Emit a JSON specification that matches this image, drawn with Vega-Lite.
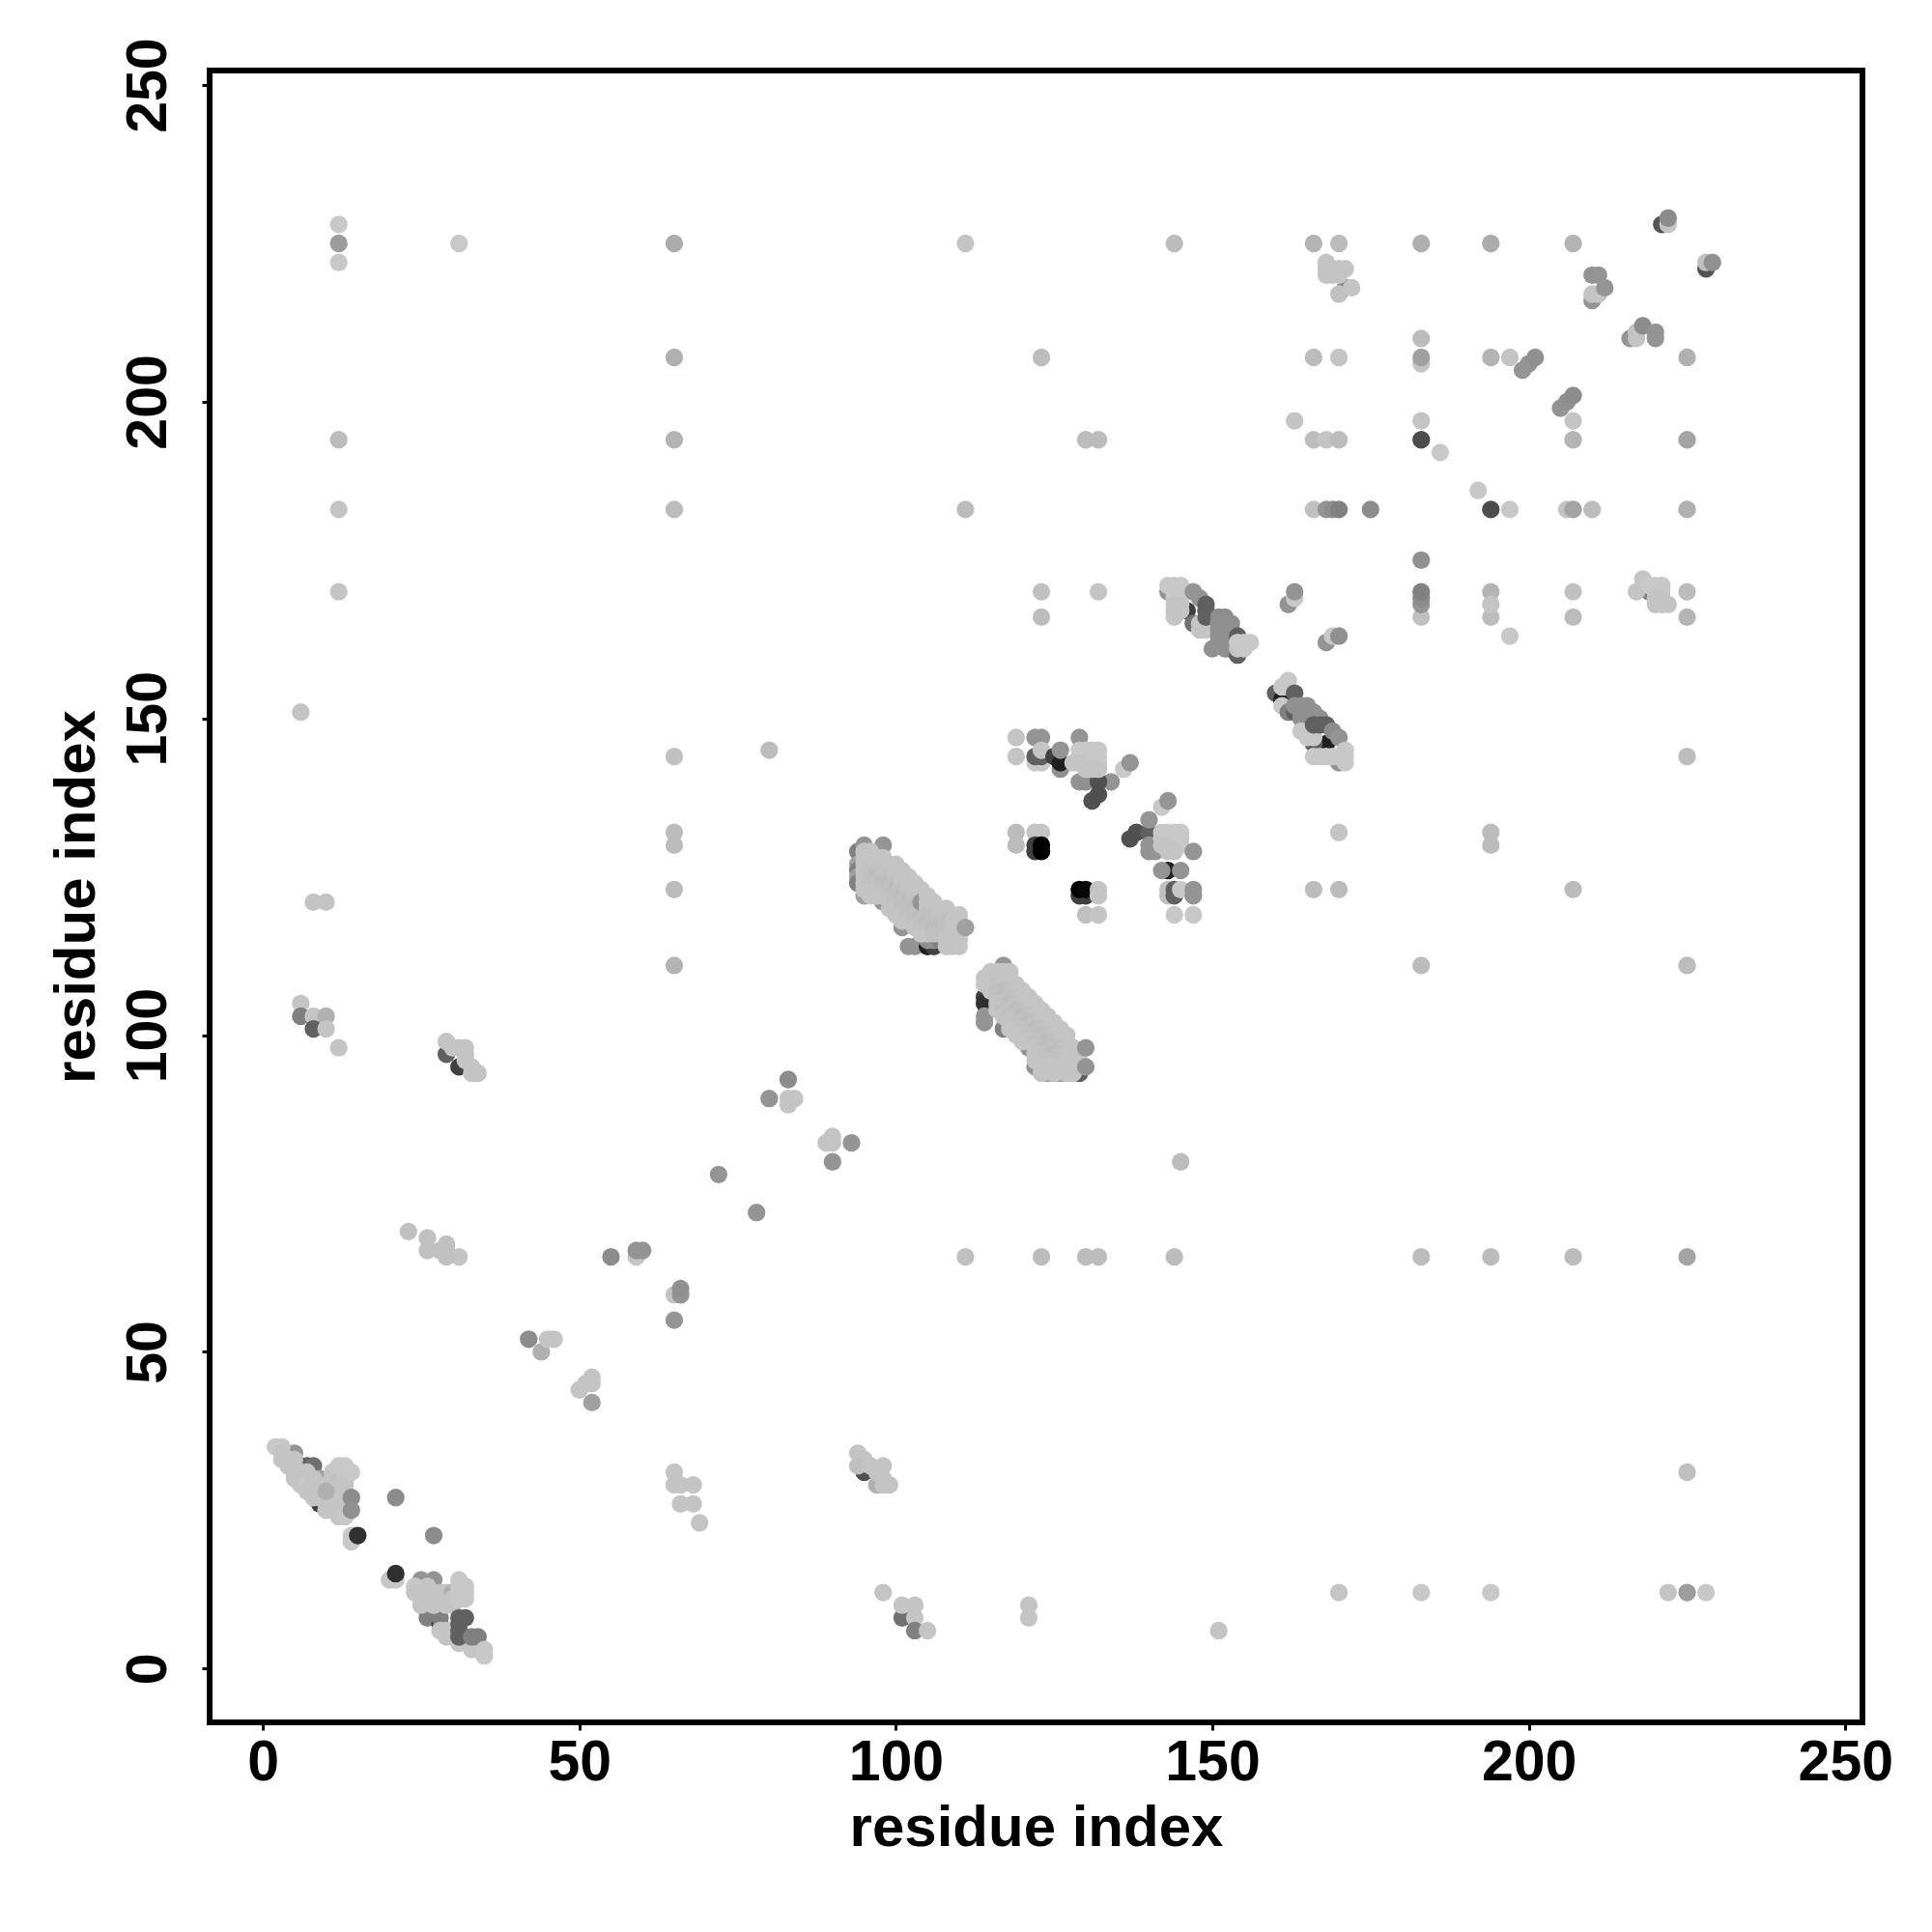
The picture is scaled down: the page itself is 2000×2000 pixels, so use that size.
{"$schema":"https://vega.github.io/schema/vega-lite/v6.json","width":1711,"height":1710,"autosize":"none","padding":{"left":217,"top":73,"right":72,"bottom":217},"background":"white","config":{"view":{"stroke":"#000000","strokeWidth":6},"font":"Liberation Sans"},
"data":{"values":[
{"i":4,"j":34,"s":148},{"i":5,"j":34,"s":148},{"i":6,"j":32,"s":96},{"i":7,"j":32,"s":96},{"i":8,"j":32,"s":112},{"i":7,"j":30,"s":128},{"i":9,"j":30,"s":160},{"i":8,"j":28,"s":64},{"i":9,"j":28,"s":128},{"i":9,"j":26,"s":64},{"i":10,"j":26,"s":128},{"i":10,"j":27,"s":128},
{"i":2,"j":35,"s":200},{"i":3,"j":35,"s":200},{"i":3,"j":34,"s":196},{"i":3,"j":33,"s":196},{"i":4,"j":33,"s":196},{"i":4,"j":32,"s":196},{"i":5,"j":33,"s":196},{"i":5,"j":31,"s":196},{"i":5,"j":30,"s":196},{"i":6,"j":31,"s":196},{"i":6,"j":30,"s":196},{"i":6,"j":29,"s":196},{"i":7,"j":31,"s":196},{"i":7,"j":29,"s":200},{"i":7,"j":28,"s":196},{"i":8,"j":30,"s":196},{"i":8,"j":29,"s":196},{"i":8,"j":27,"s":196},{"i":9,"j":27,"s":196},{"i":10,"j":29,"s":196},{"i":10,"j":25,"s":196},{"i":11,"j":31,"s":200},{"i":11,"j":30,"s":196},{"i":11,"j":29,"s":196},{"i":11,"j":27,"s":196},{"i":11,"j":26,"s":196},{"i":11,"j":25,"s":196},{"i":12,"j":31,"s":200},{"i":12,"j":30,"s":192},{"i":12,"j":29,"s":196},{"i":12,"j":28,"s":196},{"i":12,"j":27,"s":196},{"i":12,"j":26,"s":196},{"i":12,"j":25,"s":196},{"i":12,"j":24,"s":196},{"i":13,"j":31,"s":200},{"i":13,"j":30,"s":196},{"i":13,"j":29,"s":196},{"i":13,"j":28,"s":196},{"i":13,"j":27,"s":196},{"i":13,"j":24,"s":200},{"i":12,"j":32,"s":200},{"i":13,"j":32,"s":200},{"i":14,"j":31,"s":200},{"i":10,"j":28,"s":176},{"i":14,"j":21,"s":200},{"i":14,"j":20,"s":200},{"i":14,"j":27,"s":140},{"i":14,"j":25,"s":144},{"i":15,"j":21,"s":48},{"i":21,"j":27,"s":140},{"i":27,"j":21,"s":140},
{"i":26,"j":9,"s":64},{"i":26,"j":8,"s":128},{"i":28,"j":7,"s":64},{"i":28,"j":8,"s":128},
{"i":20,"j":14,"s":200},{"i":21,"j":14,"s":200},{"i":25,"j":14,"s":148},{"i":27,"j":14,"s":148},{"i":24,"j":13,"s":200},{"i":24,"j":12,"s":196},{"i":25,"j":12,"s":196},{"i":25,"j":11,"s":196},{"i":25,"j":10,"s":196},{"i":26,"j":13,"s":196},{"i":26,"j":12,"s":196},{"i":26,"j":11,"s":196},{"i":27,"j":12,"s":196},{"i":27,"j":11,"s":196},{"i":27,"j":10,"s":196},{"i":28,"j":12,"s":196},{"i":28,"j":11,"s":196},{"i":28,"j":6,"s":196},{"i":29,"j":12,"s":196},{"i":29,"j":11,"s":196},{"i":29,"j":10,"s":196},{"i":29,"j":6,"s":196},{"i":29,"j":5,"s":196},{"i":30,"j":12,"s":176},{"i":30,"j":11,"s":196},{"i":30,"j":10,"s":196},{"i":31,"j":4,"s":196},{"i":33,"j":4,"s":196},{"i":33,"j":3,"s":196},{"i":34,"j":3,"s":196},{"i":31,"j":14,"s":200},{"i":31,"j":13,"s":200},{"i":31,"j":12,"s":200},{"i":31,"j":11,"s":200},{"i":32,"j":13,"s":200},{"i":32,"j":12,"s":200},{"i":32,"j":11,"s":200},
{"i":31,"j":6,"s":96},{"i":31,"j":5,"s":96},{"i":31,"j":7,"s":96},{"i":31,"j":8,"s":96},{"i":32,"j":8,"s":96},{"i":33,"j":5,"s":128},{"i":34,"j":5,"s":128},{"i":35,"j":3,"s":200},{"i":35,"j":2,"s":200},{"i":21,"j":15,"s":48},
{"i":12,"j":228,"s":200},{"i":12,"j":225,"s":156},{"i":12,"j":222,"s":200},{"i":12,"j":194,"s":188},{"i":12,"j":183,"s":196},{"i":12,"j":170,"s":196},{"i":31,"j":225,"s":200},{"i":65,"j":225,"s":172},{"i":65,"j":207,"s":176},{"i":65,"j":194,"s":180},{"i":65,"j":183,"s":188},{"i":65,"j":144,"s":192},{"i":65,"j":132,"s":188},{"i":65,"j":130,"s":188},{"i":65,"j":123,"s":188},{"i":65,"j":111,"s":180},{"i":111,"j":225,"s":196},{"i":111,"j":183,"s":188},{"i":144,"j":225,"s":188},{"i":123,"j":207,"s":188},{"i":123,"j":170,"s":192},{"i":123,"j":166,"s":188},{"i":132,"j":170,"s":196},{"i":130,"j":194,"s":188},{"i":132,"j":194,"s":188},
{"i":111,"j":65,"s":192},{"i":123,"j":65,"s":188},{"i":130,"j":65,"s":188},{"i":132,"j":65,"s":188},{"i":144,"j":65,"s":188},{"i":183,"j":65,"s":188},{"i":194,"j":65,"s":188},{"i":207,"j":65,"s":188},{"i":225,"j":65,"s":164},{"i":170,"j":12,"s":196},{"i":183,"j":12,"s":200},{"i":194,"j":12,"s":200},{"i":222,"j":12,"s":196},{"i":225,"j":12,"s":156},{"i":228,"j":12,"s":200},{"i":225,"j":31,"s":192},{"i":151,"j":6,"s":196},{"i":6,"j":151,"s":196},{"i":80,"j":145,"s":188},{"i":145,"j":80,"s":188},{"i":121,"j":10,"s":196},{"i":121,"j":8,"s":196},{"i":98,"j":12,"s":196},{"i":101,"j":8,"s":112},{"i":101,"j":10,"s":196},{"i":103,"j":10,"s":196},{"i":103,"j":8,"s":196},{"i":103,"j":6,"s":128},{"i":105,"j":6,"s":196},
{"i":6,"j":105,"s":196},{"i":6,"j":103,"s":128},{"i":8,"j":103,"s":196},{"i":10,"j":103,"s":176},{"i":8,"j":101,"s":96},{"i":10,"j":101,"s":196},{"i":12,"j":98,"s":196},{"i":8,"j":121,"s":196},{"i":10,"j":121,"s":196},
{"i":29,"j":97,"s":96},{"i":31,"j":95,"s":64},{"i":29,"j":99,"s":196},{"i":30,"j":98,"s":196},{"i":31,"j":98,"s":196},{"i":32,"j":98,"s":196},{"i":32,"j":97,"s":196},{"i":32,"j":96,"s":196},{"i":33,"j":95,"s":196},{"i":34,"j":94,"s":196},{"i":33,"j":94,"s":196},
{"i":95,"j":31,"s":80},{"i":94,"j":34,"s":196},{"i":95,"j":33,"s":196},{"i":94,"j":32,"s":192},{"i":96,"j":32,"s":196},{"i":97,"j":29,"s":176},{"i":98,"j":32,"s":196},{"i":99,"j":29,"s":196},{"i":97,"j":31,"s":196},{"i":98,"j":30,"s":196},{"i":98,"j":29,"s":196},
{"i":23,"j":69,"s":192},{"i":26,"j":68,"s":192},{"i":26,"j":66,"s":192},{"i":29,"j":67,"s":192},{"i":29,"j":66,"s":192},{"i":28,"j":66,"s":192},{"i":31,"j":65,"s":196},{"i":29,"j":65,"s":192},
{"i":65,"j":31,"s":196},{"i":65,"j":29,"s":196},{"i":68,"j":29,"s":196},{"i":66,"j":29,"s":196},{"i":66,"j":26,"s":196},{"i":68,"j":26,"s":196},{"i":69,"j":23,"s":196},
{"i":65,"j":55,"s":148},{"i":65,"j":59,"s":196},{"i":66,"j":59,"s":148},{"i":66,"j":60,"s":144},{"i":55,"j":65,"s":140},{"i":59,"j":65,"s":196},{"i":59,"j":66,"s":148},{"i":60,"j":66,"s":148},
{"i":42,"j":52,"s":140},{"i":44,"j":50,"s":176},{"i":45,"j":52,"s":196},{"i":46,"j":52,"s":196},{"i":50,"j":44,"s":196},{"i":51,"j":45,"s":196},{"i":52,"j":46,"s":196},{"i":52,"j":45,"s":196},{"i":52,"j":42,"s":160},{"i":72,"j":78,"s":148},{"i":78,"j":72,"s":148},{"i":80,"j":90,"s":148},{"i":83,"j":93,"s":140},{"i":83,"j":89,"s":196},{"i":84,"j":90,"s":196},{"i":83,"j":90,"s":196},{"i":89,"j":83,"s":196},{"i":90,"j":84,"s":196},{"i":90,"j":83,"s":196},{"i":90,"j":80,"s":148},{"i":93,"j":83,"s":148},
{"i":94,"j":129,"s":128},{"i":94,"j":127,"s":160},{"i":94,"j":126,"s":128},{"i":94,"j":125,"s":160},{"i":94,"j":124,"s":128},{"i":95,"j":130,"s":148},{"i":98,"j":130,"s":148},{"i":95,"j":122,"s":160},{"i":98,"j":121,"s":148},{"i":101,"j":117,"s":148},{"i":102,"j":114,"s":148},{"i":103,"j":114,"s":148},{"i":105,"j":114,"s":32},{"i":106,"j":114,"s":64},{"i":105,"j":115,"s":144},{"i":106,"j":115,"s":144},{"i":107,"j":115,"s":128},
{"i":95,"j":129,"s":196},{"i":95,"j":128,"s":196},{"i":95,"j":127,"s":196},{"i":95,"j":126,"s":196},{"i":95,"j":125,"s":196},{"i":95,"j":124,"s":196},{"i":95,"j":123,"s":196},{"i":96,"j":129,"s":196},{"i":96,"j":128,"s":196},{"i":96,"j":127,"s":196},{"i":96,"j":126,"s":192},{"i":96,"j":125,"s":192},{"i":96,"j":124,"s":192},{"i":96,"j":123,"s":196},{"i":96,"j":122,"s":196},{"i":97,"j":128,"s":196},{"i":97,"j":127,"s":196},{"i":97,"j":126,"s":192},{"i":97,"j":125,"s":188},{"i":97,"j":124,"s":192},{"i":97,"j":123,"s":196},{"i":97,"j":122,"s":196},{"i":98,"j":128,"s":196},{"i":98,"j":127,"s":196},{"i":98,"j":126,"s":192},{"i":98,"j":125,"s":192},{"i":98,"j":124,"s":188},{"i":98,"j":123,"s":192},{"i":98,"j":122,"s":196},{"i":99,"j":127,"s":196},{"i":99,"j":126,"s":196},{"i":99,"j":125,"s":192},{"i":99,"j":124,"s":188},{"i":99,"j":123,"s":192},{"i":99,"j":122,"s":192},{"i":99,"j":121,"s":196},{"i":99,"j":120,"s":196},{"i":100,"j":127,"s":196},{"i":100,"j":126,"s":196},{"i":100,"j":125,"s":196},{"i":100,"j":124,"s":192},{"i":100,"j":123,"s":188},{"i":100,"j":122,"s":192},{"i":100,"j":121,"s":192},{"i":100,"j":120,"s":196},{"i":100,"j":119,"s":196},{"i":101,"j":126,"s":196},{"i":101,"j":125,"s":196},{"i":101,"j":124,"s":196},{"i":101,"j":123,"s":192},{"i":101,"j":122,"s":188},{"i":101,"j":121,"s":192},{"i":101,"j":120,"s":192},{"i":101,"j":119,"s":196},{"i":101,"j":118,"s":196},{"i":102,"j":125,"s":196},{"i":102,"j":124,"s":196},{"i":102,"j":123,"s":196},{"i":102,"j":122,"s":192},{"i":102,"j":121,"s":188},{"i":102,"j":120,"s":192},{"i":102,"j":119,"s":192},{"i":102,"j":118,"s":196},{"i":103,"j":124,"s":196},{"i":103,"j":123,"s":196},{"i":103,"j":122,"s":196},{"i":103,"j":121,"s":192},{"i":103,"j":120,"s":188},{"i":103,"j":119,"s":192},{"i":103,"j":118,"s":192},{"i":103,"j":117,"s":196},{"i":104,"j":123,"s":196},{"i":104,"j":122,"s":196},{"i":104,"j":120,"s":192},{"i":104,"j":119,"s":188},{"i":104,"j":118,"s":192},{"i":104,"j":117,"s":192},{"i":104,"j":116,"s":196},{"i":104,"j":121,"s":148},{"i":105,"j":122,"s":196},{"i":105,"j":121,"s":196},{"i":105,"j":120,"s":196},{"i":105,"j":119,"s":192},{"i":105,"j":118,"s":188},{"i":105,"j":117,"s":192},{"i":105,"j":116,"s":196},{"i":106,"j":121,"s":196},{"i":106,"j":120,"s":196},{"i":106,"j":119,"s":192},{"i":106,"j":118,"s":192},{"i":106,"j":117,"s":188},{"i":106,"j":116,"s":192},{"i":107,"j":120,"s":196},{"i":107,"j":119,"s":196},{"i":107,"j":118,"s":192},{"i":107,"j":117,"s":188},{"i":107,"j":116,"s":192},{"i":108,"j":120,"s":196},{"i":108,"j":119,"s":196},{"i":108,"j":118,"s":192},{"i":108,"j":117,"s":192},{"i":108,"j":116,"s":192},{"i":108,"j":115,"s":196},{"i":108,"j":114,"s":196},{"i":109,"j":118,"s":196},{"i":109,"j":117,"s":196},{"i":109,"j":116,"s":196},{"i":109,"j":115,"s":196},{"i":109,"j":114,"s":196},{"i":110,"j":119,"s":196},{"i":110,"j":118,"s":196},{"i":110,"j":117,"s":196},{"i":110,"j":116,"s":196},{"i":110,"j":115,"s":196},{"i":110,"j":114,"s":196},{"i":111,"j":117,"s":160},
{"i":114,"j":106,"s":64},{"i":114,"j":105,"s":48},{"i":114,"j":103,"s":148},{"i":114,"j":102,"s":148},{"i":117,"j":111,"s":148},{"i":121,"j":98,"s":148},{"i":122,"j":95,"s":148},{"i":117,"j":101,"s":128},{"i":124,"j":94,"s":160},{"i":126,"j":94,"s":160},{"i":129,"j":94,"s":96},{"i":121,"j":105,"s":148},
{"i":115,"j":110,"s":196},{"i":116,"j":110,"s":196},{"i":117,"j":110,"s":196},{"i":118,"j":110,"s":196},{"i":114,"j":109,"s":196},{"i":115,"j":109,"s":196},{"i":116,"j":109,"s":196},{"i":117,"j":109,"s":196},{"i":118,"j":109,"s":196},{"i":114,"j":108,"s":196},{"i":115,"j":108,"s":196},{"i":116,"j":108,"s":192},{"i":117,"j":108,"s":196},{"i":118,"j":108,"s":196},{"i":119,"j":108,"s":196},{"i":115,"j":107,"s":196},{"i":116,"j":107,"s":192},{"i":117,"j":107,"s":188},{"i":118,"j":107,"s":192},{"i":119,"j":107,"s":196},{"i":120,"j":107,"s":196},{"i":116,"j":106,"s":192},{"i":117,"j":106,"s":188},{"i":118,"j":106,"s":192},{"i":119,"j":106,"s":192},{"i":120,"j":106,"s":196},{"i":121,"j":106,"s":196},{"i":116,"j":105,"s":196},{"i":117,"j":105,"s":192},{"i":118,"j":105,"s":188},{"i":119,"j":105,"s":192},{"i":120,"j":105,"s":196},{"i":122,"j":105,"s":196},{"i":116,"j":104,"s":196},{"i":117,"j":104,"s":192},{"i":118,"j":104,"s":192},{"i":119,"j":104,"s":188},{"i":120,"j":104,"s":192},{"i":121,"j":104,"s":196},{"i":122,"j":104,"s":196},{"i":123,"j":104,"s":196},{"i":117,"j":103,"s":196},{"i":118,"j":103,"s":192},{"i":119,"j":103,"s":192},{"i":120,"j":103,"s":188},{"i":121,"j":103,"s":192},{"i":122,"j":103,"s":196},{"i":123,"j":103,"s":196},{"i":124,"j":103,"s":196},{"i":118,"j":102,"s":196},{"i":119,"j":102,"s":192},{"i":120,"j":102,"s":192},{"i":121,"j":102,"s":188},{"i":122,"j":102,"s":192},{"i":123,"j":102,"s":196},{"i":124,"j":102,"s":196},{"i":125,"j":102,"s":196},{"i":118,"j":101,"s":196},{"i":119,"j":101,"s":196},{"i":120,"j":101,"s":192},{"i":121,"j":101,"s":192},{"i":122,"j":101,"s":188},{"i":123,"j":101,"s":192},{"i":124,"j":101,"s":196},{"i":125,"j":101,"s":196},{"i":126,"j":101,"s":196},{"i":119,"j":100,"s":196},{"i":120,"j":100,"s":196},{"i":121,"j":100,"s":192},{"i":122,"j":100,"s":192},{"i":123,"j":100,"s":188},{"i":124,"j":100,"s":192},{"i":125,"j":100,"s":196},{"i":126,"j":100,"s":196},{"i":127,"j":100,"s":196},{"i":120,"j":99,"s":196},{"i":121,"j":99,"s":196},{"i":122,"j":99,"s":192},{"i":123,"j":99,"s":192},{"i":124,"j":99,"s":188},{"i":125,"j":99,"s":192},{"i":126,"j":99,"s":196},{"i":127,"j":99,"s":196},{"i":122,"j":98,"s":196},{"i":123,"j":98,"s":192},{"i":124,"j":98,"s":188},{"i":125,"j":98,"s":192},{"i":126,"j":98,"s":192},{"i":127,"j":98,"s":196},{"i":128,"j":98,"s":196},{"i":122,"j":97,"s":196},{"i":123,"j":97,"s":196},{"i":124,"j":97,"s":192},{"i":125,"j":97,"s":188},{"i":126,"j":97,"s":192},{"i":127,"j":97,"s":196},{"i":128,"j":97,"s":196},{"i":122,"j":96,"s":196},{"i":123,"j":96,"s":196},{"i":124,"j":96,"s":192},{"i":125,"j":96,"s":192},{"i":126,"j":96,"s":192},{"i":127,"j":96,"s":196},{"i":128,"j":96,"s":196},{"i":129,"j":96,"s":196},{"i":123,"j":95,"s":196},{"i":124,"j":95,"s":196},{"i":125,"j":95,"s":196},{"i":126,"j":95,"s":196},{"i":127,"j":95,"s":196},{"i":128,"j":95,"s":196},{"i":129,"j":95,"s":196},{"i":123,"j":94,"s":196},{"i":125,"j":94,"s":196},{"i":127,"j":94,"s":196},{"i":128,"j":94,"s":196},{"i":130,"j":98,"s":148},{"i":130,"j":95,"s":148},
{"i":119,"j":147,"s":196},{"i":119,"j":144,"s":196},{"i":122,"j":143,"s":200},{"i":123,"j":143,"s":200},{"i":122,"j":147,"s":148},{"i":123,"j":147,"s":148},{"i":122,"j":144,"s":96},{"i":123,"j":144,"s":96},{"i":123,"j":145,"s":196},{"i":126,"j":142,"s":144},{"i":125,"j":144,"s":64},{"i":126,"j":143,"s":32},{"i":126,"j":145,"s":148},{"i":129,"j":147,"s":148},{"i":129,"j":140,"s":148},{"i":130,"j":140,"s":144},{"i":134,"j":140,"s":148},{"i":132,"j":140,"s":80},{"i":132,"j":138,"s":80},{"i":131,"j":137,"s":80},{"i":136,"j":142,"s":200},{"i":137,"j":143,"s":148},
{"i":129,"j":145,"s":200},{"i":130,"j":145,"s":200},{"i":131,"j":145,"s":200},{"i":132,"j":145,"s":200},{"i":129,"j":144,"s":200},{"i":130,"j":144,"s":200},{"i":131,"j":144,"s":200},{"i":132,"j":144,"s":200},{"i":128,"j":143,"s":196},{"i":129,"j":143,"s":196},{"i":130,"j":143,"s":196},{"i":131,"j":143,"s":200},{"i":132,"j":143,"s":200},{"i":130,"j":142,"s":196},{"i":131,"j":142,"s":196},{"i":132,"j":142,"s":196},
{"i":119,"j":132,"s":188},{"i":119,"j":130,"s":188},{"i":122,"j":132,"s":196},{"i":123,"j":132,"s":196},{"i":122,"j":130,"s":64},{"i":122,"j":129,"s":64},{"i":123,"j":130,"s":0},{"i":123,"j":129,"s":0},
{"i":129,"j":122,"s":64},{"i":130,"j":122,"s":64},{"i":129,"j":123,"s":0},{"i":130,"j":123,"s":8},{"i":132,"j":123,"s":196},{"i":132,"j":122,"s":196},{"i":130,"j":119,"s":192},{"i":132,"j":119,"s":196},
{"i":142,"j":136,"s":200},{"i":143,"j":137,"s":148},{"i":137,"j":131,"s":80},{"i":138,"j":132,"s":80},{"i":140,"j":132,"s":96},{"i":140,"j":134,"s":148},{"i":140,"j":130,"s":148},{"i":140,"j":129,"s":148},{"i":141,"j":129,"s":148},{"i":142,"j":132,"s":200},{"i":143,"j":132,"s":200},{"i":144,"j":132,"s":200},{"i":145,"j":132,"s":200},{"i":142,"j":131,"s":200},{"i":143,"j":131,"s":200},{"i":144,"j":131,"s":200},{"i":145,"j":131,"s":200},{"i":142,"j":130,"s":196},{"i":143,"j":130,"s":196},{"i":144,"j":130,"s":200},{"i":145,"j":130,"s":200},{"i":143,"j":129,"s":196},{"i":144,"j":129,"s":196},{"i":147,"j":129,"s":148},
{"i":143,"j":126,"s":32},{"i":142,"j":126,"s":148},{"i":145,"j":126,"s":148},{"i":143,"j":123,"s":192},{"i":143,"j":122,"s":192},{"i":144,"j":123,"s":96},{"i":144,"j":122,"s":96},{"i":145,"j":123,"s":200},{"i":147,"j":123,"s":148},{"i":147,"j":122,"s":148},{"i":144,"j":119,"s":200},{"i":147,"j":119,"s":200},
{"i":143,"j":170,"s":148},{"i":146,"j":167,"s":64},{"i":147,"j":165,"s":112},{"i":143,"j":171,"s":200},{"i":144,"j":171,"s":200},{"i":145,"j":171,"s":200},{"i":144,"j":170,"s":200},{"i":145,"j":170,"s":200},{"i":144,"j":169,"s":200},{"i":145,"j":169,"s":200},{"i":144,"j":168,"s":196},{"i":145,"j":168,"s":196},{"i":144,"j":167,"s":196},{"i":145,"j":167,"s":196},{"i":144,"j":166,"s":196},{"i":147,"j":170,"s":148},{"i":148,"j":169,"s":148},{"i":148,"j":165,"s":196},{"i":148,"j":164,"s":196},{"i":149,"j":164,"s":196},{"i":149,"j":168,"s":96},{"i":149,"j":167,"s":96},{"i":149,"j":166,"s":96},{"i":150,"j":161,"s":144},{"i":153,"j":161,"s":32},{"i":152,"j":161,"s":144},{"i":151,"j":166,"s":140},{"i":152,"j":166,"s":140},{"i":151,"j":165,"s":144},{"i":152,"j":165,"s":144},{"i":153,"j":165,"s":144},{"i":151,"j":164,"s":144},{"i":152,"j":164,"s":144},{"i":153,"j":164,"s":144},{"i":151,"j":163,"s":144},{"i":152,"j":163,"s":144},{"i":153,"j":163,"s":144},{"i":151,"j":162,"s":144},{"i":152,"j":162,"s":144},{"i":154,"j":160,"s":96},{"i":154,"j":163,"s":96},{"i":154,"j":161,"s":196},{"i":154,"j":162,"s":200},{"i":155,"j":162,"s":200},{"i":155,"j":161,"s":200},{"i":156,"j":162,"s":200},
{"i":162,"j":168,"s":148},{"i":163,"j":169,"s":200},{"i":163,"j":170,"s":148},{"i":168,"j":162,"s":148},{"i":169,"j":163,"s":200},{"i":170,"j":163,"s":144},
{"i":160,"j":154,"s":96},{"i":161,"j":153,"s":32},{"i":162,"j":156,"s":200},{"i":161,"j":155,"s":200},{"i":161,"j":152,"s":200},{"i":162,"j":155,"s":200},{"i":162,"j":151,"s":128},{"i":163,"j":151,"s":96},{"i":163,"j":154,"s":96},{"i":163,"j":152,"s":144},{"i":164,"j":152,"s":144},{"i":165,"j":152,"s":144},{"i":164,"j":151,"s":144},{"i":165,"j":151,"s":144},{"i":166,"j":151,"s":144},{"i":164,"j":150,"s":144},{"i":165,"j":150,"s":144},{"i":166,"j":150,"s":144},{"i":167,"j":150,"s":144},
{"i":168,"j":146,"s":32},{"i":166,"j":146,"s":96},{"i":164,"j":148,"s":200},{"i":165,"j":147,"s":200},{"i":166,"j":147,"s":200},{"i":166,"j":149,"s":96},{"i":167,"j":149,"s":96},{"i":168,"j":149,"s":96},{"i":169,"j":148,"s":140},{"i":170,"j":147,"s":148},{"i":170,"j":143,"s":148},{"i":166,"j":144,"s":200},{"i":167,"j":144,"s":200},{"i":168,"j":144,"s":200},{"i":169,"j":144,"s":200},{"i":170,"j":144,"s":200},{"i":171,"j":145,"s":200},{"i":171,"j":144,"s":200},{"i":171,"j":143,"s":200},
{"i":170,"j":132,"s":196},{"i":194,"j":132,"s":188},{"i":194,"j":130,"s":188},{"i":166,"j":123,"s":188},{"i":170,"j":123,"s":188},{"i":207,"j":123,"s":188},{"i":183,"j":111,"s":188},{"i":225,"j":111,"s":188},{"i":225,"j":144,"s":188},{"i":225,"j":170,"s":188},{"i":225,"j":166,"s":180},{"i":207,"j":170,"s":192},{"i":207,"j":166,"s":188},{"i":197,"j":163,"s":200},{"i":183,"j":166,"s":192},{"i":183,"j":168,"s":148},{"i":183,"j":169,"s":140},{"i":183,"j":170,"s":128},{"i":183,"j":175,"s":144},{"i":194,"j":170,"s":180},{"i":194,"j":166,"s":188},{"i":194,"j":168,"s":196},
{"i":219,"j":170,"s":128},{"i":217,"j":170,"s":196},{"i":218,"j":172,"s":196},{"i":219,"j":171,"s":200},{"i":220,"j":171,"s":200},{"i":220,"j":170,"s":200},{"i":221,"j":171,"s":200},{"i":221,"j":170,"s":200},{"i":220,"j":169,"s":196},{"i":221,"j":169,"s":196},{"i":220,"j":168,"s":196},{"i":221,"j":168,"s":196},{"i":222,"j":168,"s":196},
{"i":166,"j":225,"s":180},{"i":170,"j":225,"s":188},{"i":183,"j":225,"s":176},{"i":194,"j":225,"s":172},{"i":207,"j":225,"s":180},{"i":221,"j":228,"s":84},{"i":222,"j":228,"s":196},{"i":222,"j":229,"s":140},{"i":228,"j":221,"s":84},{"i":228,"j":222,"s":192},{"i":229,"j":222,"s":144},
{"i":171,"j":218,"s":140},{"i":170,"j":217,"s":192},{"i":168,"j":222,"s":196},{"i":168,"j":221,"s":196},{"i":169,"j":221,"s":196},{"i":170,"j":221,"s":196},{"i":171,"j":221,"s":196},{"i":168,"j":220,"s":196},{"i":169,"j":220,"s":196},{"i":170,"j":220,"s":196},{"i":172,"j":218,"s":196},
{"i":210,"j":216,"s":148},{"i":210,"j":217,"s":196},{"i":211,"j":217,"s":196},{"i":210,"j":220,"s":148},{"i":211,"j":220,"s":148},{"i":212,"j":218,"s":148},{"i":216,"j":210,"s":148},{"i":217,"j":210,"s":196},{"i":217,"j":211,"s":196},{"i":218,"j":212,"s":140},{"i":220,"j":211,"s":148},{"i":220,"j":210,"s":148},
{"i":225,"j":207,"s":176},{"i":166,"j":207,"s":188},{"i":170,"j":207,"s":196},{"i":183,"j":210,"s":188},{"i":183,"j":206,"s":196},{"i":183,"j":207,"s":160},{"i":194,"j":207,"s":180},{"i":197,"j":207,"s":196},{"i":199,"j":205,"s":148},{"i":200,"j":206,"s":148},{"i":201,"j":207,"s":144},{"i":205,"j":199,"s":148},{"i":206,"j":200,"s":144},{"i":207,"j":201,"s":140},{"i":207,"j":197,"s":196},{"i":207,"j":194,"s":180},{"i":225,"j":194,"s":164},{"i":163,"j":197,"s":196},{"i":166,"j":194,"s":188},{"i":168,"j":194,"s":196},{"i":170,"j":194,"s":188},{"i":183,"j":197,"s":196},{"i":183,"j":194,"s":76},{"i":186,"j":192,"s":200},{"i":192,"j":186,"s":200},
{"i":166,"j":183,"s":192},{"i":168,"j":183,"s":148},{"i":169,"j":183,"s":140},{"i":170,"j":183,"s":128},{"i":175,"j":183,"s":140},{"i":194,"j":183,"s":76},{"i":197,"j":183,"s":200},{"i":206,"j":183,"s":196},{"i":207,"j":183,"s":164},{"i":210,"j":183,"s":188},{"i":225,"j":183,"s":176}
]},
"mark":{"type":"circle","opacity":1},
"encoding":{
"x":{"field":"i","type":"quantitative","scale":{"domain":[-8.4,252.7],"nice":false,"zero":false},"axis":{"title":"residue index","values":[0,50,100,150,200,250],"grid":false,"domain":false,"tickColor":"#000","tickWidth":3,"tickSize":8,"labelFont":"Liberation Sans","labelFontWeight":"bold","labelFontSize":59,"labelColor":"#000","labelPadding":4,"labelFlush":false,"labelOverlap":false,"titleFont":"Liberation Sans","titleFontWeight":"bold","titleFontSize":60,"titleColor":"#000","titlePadding":9}},
"y":{"field":"j","type":"quantitative","scale":{"domain":[-8.5,252.3],"nice":false,"zero":false},"axis":{"title":"residue index","values":[0,50,100,150,200,250],"grid":false,"domain":false,"tickColor":"#000","tickWidth":3,"tickSize":8,"labelFont":"Liberation Sans","labelFontWeight":"bold","labelFontSize":59,"labelColor":"#000","labelAngle":270,"labelAlign":"center","labelBaseline":"bottom","labelPadding":26,"labelFlush":false,"labelOverlap":false,"titleFont":"Liberation Sans","titleFontWeight":"bold","titleFontSize":60,"titleColor":"#000","titlePadding":14}},
"color":{"field":"s","type":"quantitative","legend":null,"scale":{"domain":[0,255],"range":["#000000","#ffffff"],"interpolate":"rgb"}},
"size":{"value":335}
}}
